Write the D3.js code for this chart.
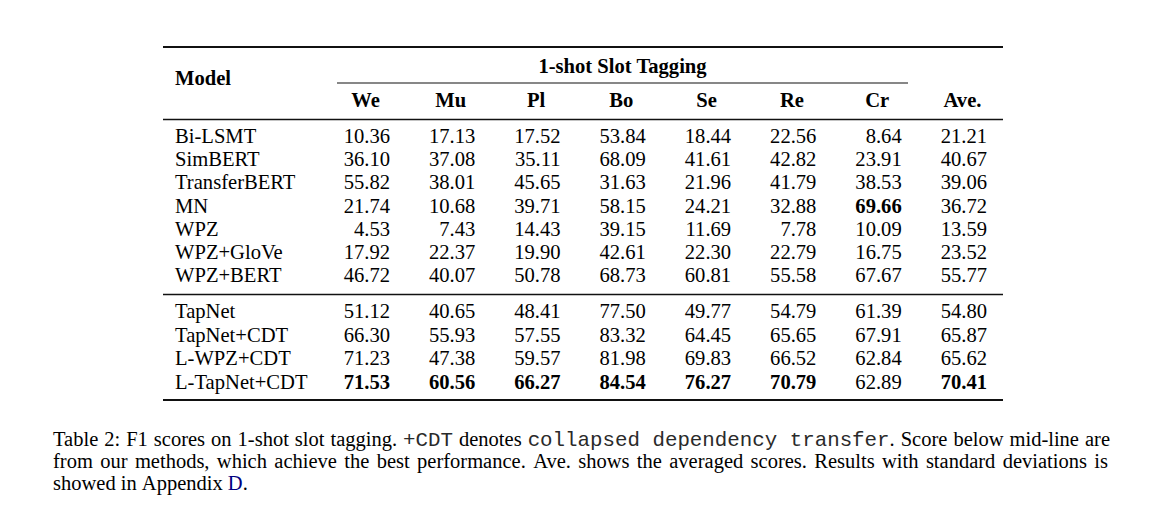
<!DOCTYPE html>
<html>
<head>
<meta charset="utf-8">
<script src="https://cdn.jsdelivr.net/npm/d3@7"></script>
<style>
  html, body { margin: 0; padding: 0; background: #fff; }
  svg { display: block; }
  text { font-family: "Liberation Serif", "Times New Roman", serif; fill: #000; }
  .mono { font-family: "Liberation Mono", "Courier New", monospace; fill: #2a2a2a; white-space: pre; }
</style>
</head>
<body>
<svg id="chart" width="1169" height="508"></svg>
<script>
// ---------------- data ----------------
const groupTitle = "1-shot Slot Tagging";
const modelHeader = "Model";
const columns = ["We", "Mu", "Pl", "Bo", "Se", "Re", "Cr", "Ave."];

const baselineModels = ["Bi-LSMT", "SimBERT", "TransferBERT", "MN", "WPZ", "WPZ+GloVe", "WPZ+BERT"];
const baselineScores = [
  [10.36, 17.13, 17.52, 53.84, 18.44, 22.56,  8.64, 21.21],
  [36.10, 37.08, 35.11, 68.09, 41.61, 42.82, 23.91, 40.67],
  [55.82, 38.01, 45.65, 31.63, 21.96, 41.79, 38.53, 39.06],
  [21.74, 10.68, 39.71, 58.15, 24.21, 32.88, 69.66, 36.72],
  [ 4.53,  7.43, 14.43, 39.15, 11.69,  7.78, 10.09, 13.59],
  [17.92, 22.37, 19.90, 42.61, 22.30, 22.79, 16.75, 23.52],
  [46.72, 40.07, 50.78, 68.73, 60.81, 55.58, 67.67, 55.77]
];

const ourModels = ["TapNet", "TapNet+CDT", "L-WPZ+CDT", "L-TapNet+CDT"];
const ourScores = [
  [51.12, 40.65, 48.41, 77.50, 49.77, 54.79, 61.39, 54.80],
  [66.30, 55.93, 57.55, 83.32, 64.45, 65.65, 67.91, 65.87],
  [71.23, 47.38, 59.57, 81.98, 69.83, 66.52, 62.84, 65.62],
  [71.53, 60.56, 66.27, 84.54, 76.27, 70.79, 62.89, 70.41]
];

// caption: each line a list of [text, style] ; style r = roman, m = mono (kept whole), l = link
const captionLines = [
  [["Table 2: F1 scores on 1-shot slot tagging. ", "r"], ["+CDT", "m"], [" denotes ", "r"],
   ["collapsed dependency transfer", "m"], [". Score below mid-line are", "r"]],
  [["from our methods, which achieve the best performance. Ave. shows the averaged scores. Results with standard deviations is", "r"]],
  [["showed in Appendix ", "r"], ["D", "l"], [".", "r"]]
];

// ---------------- layout ----------------
const svg = d3.select("#chart");
svg.append("rect").attr("width", 1169).attr("height", 508).attr("fill", "#fff");

const FS = 20.6;
const CAP_FS = 20.5;
const MONO_FS = 20.8;
const tableLeft = 163, tableRight = 1003;

// right edge of each numeric column
const x = d3.scalePoint().domain(columns).range([390, 987]);
const colW = 46; // width of a 4-digit number
const yBase = d3.scaleLinear().domain([0, baselineModels.length - 1]).range([143, 282]);
const yOurs = d3.scaleLinear().domain([0, ourModels.length - 1]).range([318, 388.5]);

const allScores = baselineScores.concat(ourScores);
const colMax = columns.map((c, j) => d3.max(allScores, r => r[j]));

// rules
function rule(y, w, x0 = tableLeft, x1 = tableRight) {
  svg.append("line").attr("x1", x0).attr("x2", x1).attr("y1", y).attr("y2", y)
    .attr("stroke", "#111").attr("stroke-width", w);
}
rule(47, 2);
rule(83, 1.1, 337, 908);
rule(119.5, 1.3);
rule(294.5, 1.3);
rule(400, 2);

// headers
svg.append("text").attr("x", 175).attr("y", 85).attr("font-size", FS)
  .attr("font-weight", "bold").text(modelHeader);
svg.append("text").attr("x", (337 + 908) / 2).attr("y", 73).attr("font-size", FS)
  .attr("font-weight", "bold").attr("text-anchor", "middle").text(groupTitle);
svg.append("g").selectAll("text").data(columns).join("text")
  .attr("x", d => x(d) - colW / 2 - 1.5).attr("y", 107).attr("font-size", FS)
  .attr("font-weight", "bold").attr("text-anchor", "middle").text(d => d);

// body rows
function drawGroup(models, scores, y) {
  const g = svg.append("g");
  g.selectAll("text.model").data(models).join("text").attr("class", "model")
    .attr("x", 175).attr("y", (d, i) => y(i)).attr("font-size", FS).text(d => d);
  scores.forEach((row, i) => {
    g.append("g").selectAll("text").data(row).join("text")
      .attr("x", (d, j) => x(columns[j])).attr("y", y(i)).attr("font-size", FS)
      .attr("text-anchor", "end")
      .attr("font-weight", (d, j) => d === colMax[j] ? "bold" : "normal")
      .text(d => d.toFixed(2));
  });
}
drawGroup(baselineModels, baselineScores, yBase);
drawGroup(ourModels, ourScores, yOurs);

// caption (justified)
const capLeft = 53;
const capRights = [1110, 1108, null];
const capY = d3.scaleLinear().domain([0, 2]).range([445.5, 490]);

captionLines.forEach((segs, li) => {
  const words = [];
  let cur = [];
  segs.forEach(([t, s]) => {
    const parts = s === "m" ? [t] : t.split(" ");
    parts.forEach((p, k) => {
      if (k > 0) { if (cur.length) words.push(cur); cur = []; }
      if (p.length) cur.push([p, s]);
    });
  });
  if (cur.length) words.push(cur);

  const g = svg.append("g");
  const nodes = words.map(w => {
    const t = g.append("text").attr("y", capY(li)).attr("font-size", CAP_FS);
    w.forEach(([p, s]) => {
      const ts = t.append("tspan").text(p);
      if (s === "m") ts.attr("class", "mono").attr("font-size", MONO_FS);
      if (s === "l") ts.style("fill", "#000080");
    });
    return t;
  });
  const widths = nodes.map(n => n.node().getComputedTextLength());
  const total = d3.sum(widths);
  const gap = capRights[li] ? (capRights[li] - capLeft - total) / (words.length - 1) : CAP_FS * 0.25;
  let cx = capLeft;
  nodes.forEach((n, k) => { n.attr("x", cx); cx += widths[k] + gap; });
});
</script>
</body>
</html>
